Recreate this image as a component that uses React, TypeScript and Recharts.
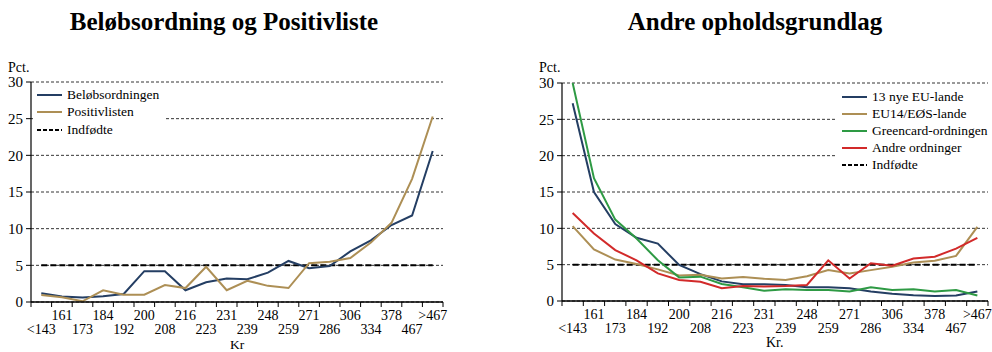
import React from 'react';
import { LineChart, Line, XAxis, YAxis, CartesianGrid, Legend } from 'recharts';

const categories = ['<143', '161', '173', '184', '192', '200', '208', '216', '223', '231', '239', '248', '259', '271', '286', '306', '334', '378', '467', '>467'];

// Left chart
const belobsordningen = [1.2, 0.75, 0.6, 0.8, 1.1, 4.2, 4.2, 1.6, 2.7, 3.2, 3.1, 4.0, 5.6, 4.6, 4.9, 6.9, 8.4, 10.5, 11.8, 20.6];
const positivlisten = [0.95, 0.65, 0.1, 1.6, 1.0, 1.0, 2.3, 1.9, 4.8, 1.6, 2.9, 2.2, 1.9, 5.3, 5.5, 6.0, 8.1, 10.8, 16.8, 25.3];
const indfodte = [5, 5, 5, 5, 5, 5, 5, 5, 5, 5, 5, 5, 5, 5, 5, 5, 5, 5, 5, 5];

// Right chart
const nyeEU13 = [27.2, 15.0, 10.6, 8.7, 7.9, 4.95, 3.7, 2.7, 2.3, 2.3, 2.2, 1.9, 1.9, 1.75, 1.3, 1.0, 0.8, 0.7, 0.75, 1.3];
const eu14 = [10.3, 7.1, 5.7, 5.1, 4.35, 3.5, 3.6, 3.1, 3.3, 3.05, 2.9, 3.4, 4.25, 3.8, 4.25, 4.7, 5.3, 5.55, 6.2, 10.2];
const greencard = [30, 16.9, 11.2, 8.6, 5.6, 3.25, 3.35, 2.35, 1.9, 1.4, 1.6, 1.5, 1.5, 1.3, 1.9, 1.5, 1.6, 1.3, 1.5, 0.75];
const andre = [12.1, 9.3, 7.0, 5.6, 3.8, 2.9, 2.65, 1.75, 2.05, 2.0, 2.05, 2.2, 5.6, 3.1, 5.2, 4.85, 5.85, 6.1, 7.2, 8.7];

const yTicks = [0, 5, 10, 15, 20, 25, 30];

const SERIF = '"Liberation Serif", "Times New Roman", serif';

const NAVY = '#243E63';
const TAN = '#AD8F55';
const GREEN = '#2E9A44';
const RED = '#D22A2A';

type SeriesDef = { key: string; name: string; color: string; dash?: string; width: number };

const leftSeries: SeriesDef[] = [
  { key: 'belob', name: 'Beløbsordningen', color: NAVY, width: 2 },
  { key: 'positiv', name: 'Positivlisten', color: TAN, width: 2 },
  { key: 'indf', name: 'Indfødte', color: '#000', dash: '6 3', width: 2 },
];

const rightSeries: SeriesDef[] = [
  { key: 'eu13', name: '13 nye EU-lande', color: NAVY, width: 2 },
  { key: 'eu14', name: 'EU14/EØS-lande', color: TAN, width: 2 },
  { key: 'green', name: 'Greencard-ordningen', color: GREEN, width: 2 },
  { key: 'andre', name: 'Andre ordninger', color: RED, width: 2 },
  { key: 'indf', name: 'Indfødte', color: '#000', dash: '6 3', width: 2 },
];

const leftData = categories.map((c, i) => ({
  x: i + 0.5,
  cat: c,
  belob: belobsordningen[i],
  positiv: positivlisten[i],
  indf: indfodte[i],
}));

const rightData = categories.map((c, i) => ({
  x: i + 0.5,
  cat: c,
  eu13: nyeEU13[i],
  eu14: eu14[i],
  green: greencard[i],
  andre: andre[i],
  indf: indfodte[i],
}));

const xTicks: number[] = [];
categories.forEach((_, i) => {
  xTicks.push(i);
  xTicks.push(i + 0.5);
});
xTicks.push(categories.length);

const XTick = (props: any) => {
  const { x, y, payload } = props;
  const v = payload.value as number;
  if (Number.isInteger(v)) {
    return <line x1={x} x2={x} y1={y} y2={y + 5} stroke="#000" strokeWidth={1} />;
  }
  const i = Math.round(v - 0.5);
  const bottomRow = i % 2 === 0;
  return (
    <text x={x} y={y + (bottomRow ? 32 : 18)} textAnchor="middle" fontFamily={SERIF} fontSize={14} fill="#000">
      {categories[i]}
    </text>
  );
};

const makeLegend = (series: SeriesDef[], rowH: number, sampleLeft: number) => () => (
  <div style={{ fontFamily: SERIF, fontSize: 13.5, color: '#000' }}>
    {series.map((s) => (
      <div key={s.key} style={{ display: 'flex', alignItems: 'center', height: rowH, whiteSpace: 'nowrap' }}>
        <svg width={25} height={6} style={{ marginLeft: sampleLeft, marginRight: 5, flex: 'none' }}>
          <line x1={0} x2={25} y1={3} y2={3} stroke={s.color} strokeWidth={2} strokeDasharray={s.dash ? '4 2' : undefined} />
        </svg>
        <span>{s.name}</span>
      </div>
    ))}
  </div>
);

type PanelProps = {
  data: any[];
  series: SeriesDef[];
  margin: { top: number; right: number; bottom: number; left: number };
  legendBox: { left: number; top: number; width: number; height: number };
  legendRowH: number;
  legendSampleLeft: number;
};

const Panel = ({ data, series, margin, legendBox, legendRowH, legendSampleLeft }: PanelProps) => {
  const ordered = [...series].sort((a, b) => (a.key === 'indf' ? -1 : b.key === 'indf' ? 1 : 0));
  return (
    <LineChart width={496} height={352} data={data} margin={margin}>
      <CartesianGrid vertical={false} stroke="#000" strokeDasharray="3 2" strokeWidth={0.8} />
      <XAxis
        dataKey="x"
        type="number"
        domain={[0, categories.length]}
        ticks={xTicks}
        interval={0}
        tick={<XTick />}
        tickLine={false}
        tickSize={0}
        tickMargin={0}
        height={40}
        axisLine={{ stroke: '#000', strokeWidth: 1.5 }}
        allowDecimals
      />
      <YAxis
        type="number"
        domain={[0, 30]}
        ticks={yTicks}
        interval={0}
        width={31}
        tickSize={5}
        tickMargin={3}
        tickLine={{ stroke: '#000' }}
        axisLine={{ stroke: '#000', strokeWidth: 1.2 }}
        tick={{ fill: '#000', fontSize: 15, fontFamily: SERIF }}
      />
      {ordered.map((s) => (
        <Line
          key={s.key}
          dataKey={s.key}
          name={s.name}
          type="linear"
          stroke={s.color}
          strokeWidth={s.width}
          strokeDasharray={s.dash}
          dot={false}
          activeDot={false}
          isAnimationActive={false}
        />
      ))}
      <Legend
        layout="horizontal"
        verticalAlign="middle"
        align="center"
        content={makeLegend(series, legendRowH, legendSampleLeft)}
        wrapperStyle={{
          position: 'absolute',
          left: legendBox.left,
          top: legendBox.top,
          width: legendBox.width,
          height: legendBox.height,
          background: '#fff',
        }}
      />
    </LineChart>
  );
};

const textAbs = (left: number, top: number, text: string, size: number, extra: React.CSSProperties = {}) => (
  <div
    style={{
      position: 'absolute',
      left,
      top,
      fontFamily: SERIF,
      fontSize: size,
      lineHeight: `${size}px`,
      color: '#000',
      whiteSpace: 'nowrap',
      ...extra,
    }}
  >
    {text}
  </div>
);

export default function App() {
  return (
    <div style={{ position: 'absolute', left: 0, top: 0, width: 992, height: 352, background: '#fff', overflow: 'hidden' }}>
      <div
        style={{
          position: 'absolute',
          left: 0,
          top: 9,
          width: 448,
          textAlign: 'center',
          fontFamily: SERIF,
          fontWeight: 'bold',
          fontSize: 25,
          lineHeight: '25px',
          color: '#000',
        }}
      >
        Beløbsordning og Positivliste
      </div>
      <div
        style={{
          position: 'absolute',
          left: 555,
          top: 9,
          width: 400,
          textAlign: 'center',
          fontFamily: SERIF,
          fontWeight: 'bold',
          fontSize: 25,
          lineHeight: '25px',
          color: '#000',
        }}
      >
        Andre opholdsgrundlag
      </div>

      <div style={{ position: 'absolute', left: 0, top: 0 }}>
        <Panel
          data={leftData}
          series={leftSeries}
          margin={{ top: 82, right: 53, bottom: 10, left: 0 }}
          legendBox={{ left: 33, top: 86, width: 132, height: 54 }}
          legendRowH={17.5}
          legendSampleLeft={4}
        />
      </div>
      <div style={{ position: 'absolute', left: 496, top: 0 }}>
        <Panel
          data={rightData}
          series={rightSeries}
          margin={{ top: 83, right: 4, bottom: 11, left: 35 }}
          legendBox={{ left: 339, top: 89, width: 153, height: 85 }}
          legendRowH={16.8}
          legendSampleLeft={7}
        />
      </div>

      {textAbs(8, 61, 'Pct.', 14)}
      {textAbs(539, 61, 'Pct.', 14)}
      {textAbs(230, 337.5, 'Kr', 13.5)}
      {textAbs(766, 336, 'Kr.', 14)}
    </div>
  );
}
